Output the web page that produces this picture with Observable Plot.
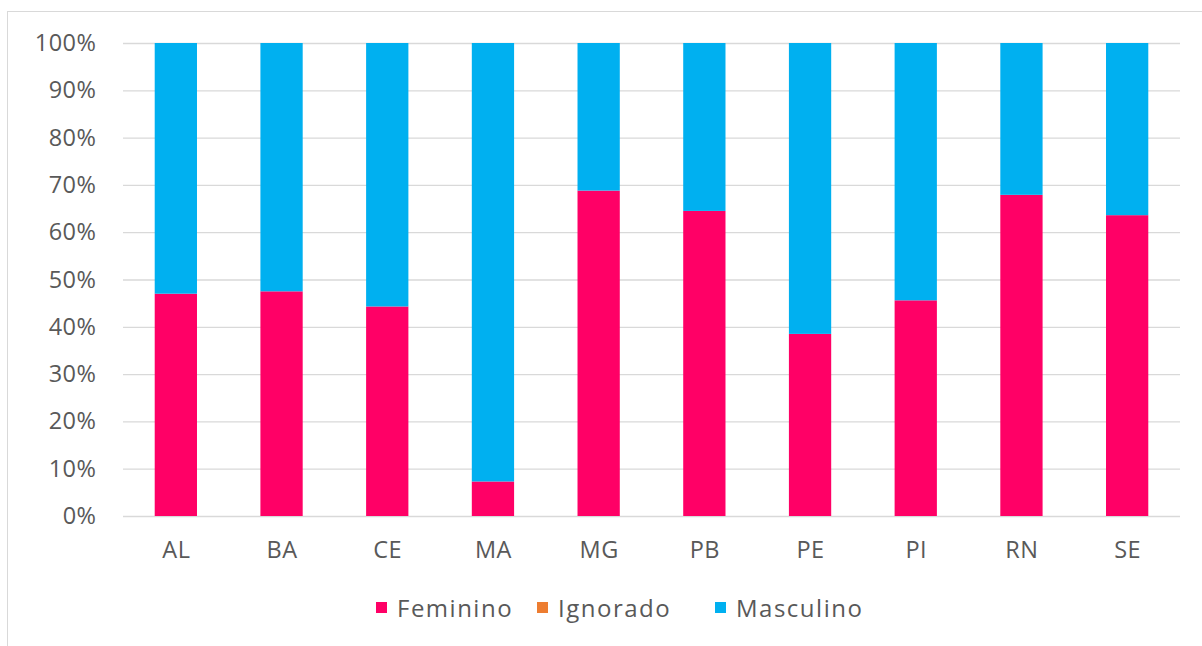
<!DOCTYPE html>
<html>
<head>
<meta charset="utf-8">
<script src="https://cdn.jsdelivr.net/npm/d3@7"></script>
<script src="https://cdn.jsdelivr.net/npm/@observablehq/plot@0.6"></script>
<style>
  html, body { margin: 0; padding: 0; background: #fff; overflow: hidden; }
  #frame { position: absolute; left: 7px; top: 11px; width: 1220px; height: 660px; border: 1px solid #d9d9d9; box-sizing: border-box; }
  #chart { position: absolute; left: 0; top: 0; }
  .item { position: absolute; top: 591px; display: flex; align-items: center; font-family: "Open Sans", sans-serif; font-size: 24px; color: #595959; letter-spacing: 1.5px; white-space: nowrap; }
  .sw { width: 11px; height: 11px; margin-right: 10px; }
</style>
</head>
<body>
<div id="frame"></div>
<div id="chart"></div>
<div id="legend"></div>
<script>
const states = ["AL", "BA", "CE", "MA", "MG", "PB", "PE", "PI", "RN", "SE"];
const feminino  = [47.0, 47.5, 44.3, 7.3, 68.8, 64.5, 38.5, 45.6, 67.9, 63.6];
const ignorado  = [0, 0, 0, 0, 0, 0, 0, 0, 0, 0];
const masculino = [53.0, 52.5, 55.7, 92.7, 31.2, 35.5, 61.5, 54.4, 32.1, 36.4];
const seriesNames = ["Feminino", "Ignorado", "Masculino"];
const seriesColors = ["#FF0066", "#ED7D31", "#00B0F0"];
const yTicks = [0, 10, 20, 30, 40, 50, 60, 70, 80, 90, 100];
const legendLeft = [376, 537, 715];

const seriesValues = [feminino, ignorado, masculino];
const data = [];
seriesNames.forEach((s, si) => {
  states.forEach((st, i) => data.push({state: st, series: s, value: seriesValues[si][i]}));
});

const chart = Plot.plot({
  width: 1202,
  height: 580,
  marginTop: 43,
  marginBottom: 64,
  marginLeft: 123,
  marginRight: 22,
  style: { fontFamily: "'Open Sans', sans-serif", fontSize: "23.5px", color: "#595959", background: "transparent", letterSpacing: "0.5px" },
  x: { domain: states, paddingInner: 0.6, paddingOuter: 0.3, round: false, label: null, tickSize: 0, tickPadding: 25 },
  y: { domain: [0, 100], ticks: yTicks, tickFormat: d => d + "%", label: null, tickSize: 0, tickPadding: 27 },
  color: { domain: seriesNames, range: seriesColors },
  marks: [
    Plot.gridY(yTicks, { stroke: "#d9d9d9", strokeOpacity: 1, strokeWidth: 1.3 }),
    Plot.barY(data, Plot.stackY({ x: "state", y: "value", fill: "series", order: seriesNames }))
  ]
});
chart.querySelectorAll("text").forEach(t => t.setAttribute("fill", "#595959"));
document.getElementById("chart").appendChild(chart);

const legend = document.getElementById("legend");
seriesNames.forEach((s, i) => {
  const item = document.createElement("div");
  item.className = "item";
  item.style.left = legendLeft[i] + "px";
  const sw = document.createElement("div");
  sw.className = "sw";
  sw.style.background = seriesColors[i];
  const label = document.createElement("span");
  label.textContent = s;
  item.appendChild(sw);
  item.appendChild(label);
  legend.appendChild(item);
});
</script>
</body>
</html>
